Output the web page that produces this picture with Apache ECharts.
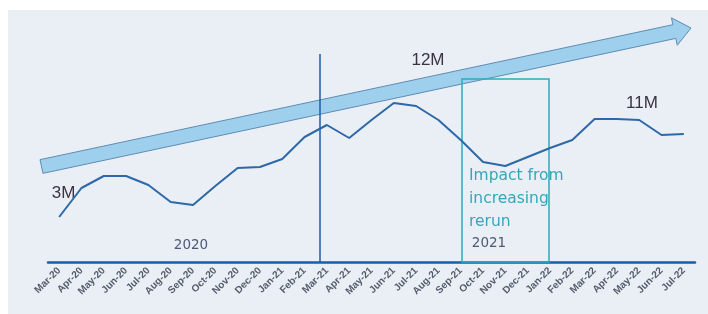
<!DOCTYPE html>
<html>
<head>
<meta charset="utf-8">
<script src="https://cdn.jsdelivr.net/npm/echarts@6/dist/echarts.min.js"></script>
<style>
    html, body { margin: 0; padding: 0; background: #fff; }
    #chart { width: 708px; height: 314px; }
</style>
</head>
<body>
<div id="chart"></div>
<script>
    // months on the x axis
    const months = ['Mar-20', 'Apr-20', 'May-20', 'Jun-20', 'Jul-20', 'Aug-20', 'Sep-20', 'Oct-20', 'Nov-20', 'Dec-20',
        'Jan-21', 'Feb-21', 'Mar-21', 'Apr-21', 'May-21', 'Jun-21', 'Jul-21', 'Aug-21', 'Sep-21', 'Oct-21',
        'Nov-21', 'Dec-21', 'Jan-22', 'Feb-22', 'Mar-22', 'Apr-22', 'May-22', 'Jun-22', 'Jul-22']
    // line height (relative units)
    const volume = [45, 74, 86, 86, 77, 60, 57, 76, 94, 95,
        103, 125, 137, 124, 142, 159, 156, 142, 122, 100,
        96, 105, 114, 122, 143, 143, 142, 127, 128]

    const lineColor = '#2d69a8'
    const axisColor = '#1d5ca6'
    const teal = '#2eaabb'

    let myChart = echarts.init(document.getElementById('chart'))

    // big light blue arrow
    function arrowPoints() {
        let S = [41.5, 166.5], T = [691, 28]
        let dx = T[0] - S[0], dy = T[1] - S[1]
        let len = Math.sqrt(dx * dx + dy * dy)
        let u = [dx / len, dy / len]
        let n = [-u[1], u[0]]
        let hw = 7, hh = 14, headLen = 17
        let B = [T[0] - headLen * u[0], T[1] - headLen * u[1]]
        let p = (P, k) => [P[0] + k * n[0], P[1] + k * n[1]]
        return [p(S, -hw), p(B, -hw), p(B, -hh), T, p(B, hh), p(B, hw), p(S, hw)]
    }

    let options = {
        backgroundColor: '#eaeef5',
        animation: false,
        grid: {
            left: 48,
            right: 13,
            top: 10,
            bottom: 52
        },
        xAxis: {
            type: 'category',
            boundaryGap: true,
            data: months,
            axisLine: {
                lineStyle: { color: axisColor, width: 2.5 }
            },
            axisTick: {
                length: 3,
                lineStyle: { color: axisColor, width: 2 }
            },
            axisLabel: {
                interval: 0,
                rotate: 45,
                margin: 7,
                fontSize: 10,
                fontWeight: 'bold',
                fontFamily: 'Liberation Sans',
                color: '#555d6c'
            }
        },
        yAxis: {
            type: 'value',
            min: 0,
            max: 252,
            show: false
        },
        graphic: [
            // white frame outside the grey panel
            { type: 'rect', z: 0, shape: { x: 0, y: 0, width: 708, height: 10 }, style: { fill: '#fff' } },
            { type: 'rect', z: 0, shape: { x: 0, y: 0, width: 8, height: 314 }, style: { fill: '#fff' } },
            {
                type: 'polygon', z: 1,
                shape: { points: arrowPoints() },
                style: { fill: '#9ecfec', stroke: '#5d8cb6', lineWidth: 1 }
            },
            {
                type: 'line', z: 3,
                shape: { x1: 320, y1: 54, x2: 320, y2: 262 },
                style: { stroke: axisColor, lineWidth: 1.5 }
            },
            {
                type: 'rect', z: 3,
                shape: { x: 462, y: 79, width: 87, height: 183 },
                style: { fill: 'none', stroke: teal, lineWidth: 1.5 }
            },
            {
                type: 'text', z: 4, left: 469, top: 164,
                style: {
                    text: 'Impact from\nincreasing\nrerun',
                    fill: '#34a8ba',
                    font: '15.5px "DejaVu Sans"',
                    lineHeight: 23
                }
            },
            {
                type: 'text', z: 4, x: 63.5, y: 193,
                style: { text: '3M', fill: '#3c3340', font: '17px "Liberation Sans"', align: 'center', verticalAlign: 'middle' }
            },
            {
                type: 'text', z: 4, x: 428, y: 60,
                style: { text: '12M', fill: '#3c3340', font: '17px "Liberation Sans"', align: 'center', verticalAlign: 'middle' }
            },
            {
                type: 'text', z: 4, x: 642, y: 103,
                style: { text: '11M', fill: '#3c3340', font: '17px "Liberation Sans"', align: 'center', verticalAlign: 'middle' }
            },
            {
                type: 'text', z: 4, x: 191, y: 245,
                style: { text: '2020', fill: '#4d5a78', font: '13.5px "DejaVu Sans"', align: 'center', verticalAlign: 'middle' }
            },
            {
                type: 'text', z: 4, x: 489, y: 243,
                style: { text: '2021', fill: '#4d5a78', font: '13.5px "DejaVu Sans"', align: 'center', verticalAlign: 'middle' }
            }
        ],
        series: [{
            type: 'line',
            data: volume,
            showSymbol: false,
            symbol: 'none',
            z: 5,
            lineStyle: { color: lineColor, width: 2 }
        }]
    }
    myChart.setOption(options)
</script>
</body>
</html>
